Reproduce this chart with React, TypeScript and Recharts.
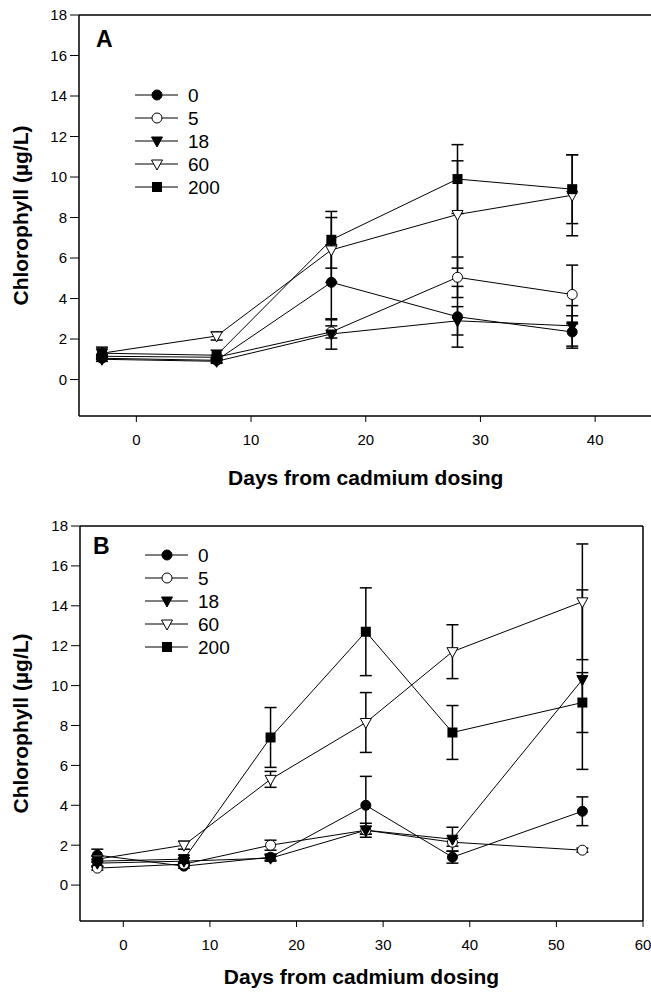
import { ComposedChart, Line, XAxis, YAxis, ErrorBar, ReferenceLine, Customized } from "recharts"

// doses of cadmium (legend)
const doses = ["0", "5", "18", "60", "200"]

// panel A
const daysA = [-3, 7, 17, 28, 38]
const a0 = [1.05, 0.95, 4.8, 3.1, 2.35]
const a5 = [1.15, 1.1, 2.35, 5.05, 4.2]
const a18 = [1.0, 0.9, 2.25, 2.9, 2.65]
const a60 = [1.3, 2.15, 6.4, 8.15, 9.1]
const a200 = [1.3, 1.2, 6.9, 9.9, 9.4]
const a0err = [0.15, 0.1, 1.85, 1.5, 0.8]
const a5err = [0.1, 0.1, 0.3, 1.0, 1.45]
const a18err = [0.1, 0.1, 0.75, 0.7, 1.0]
const a60err = [0.2, 0.2, 1.6, 2.65, 2.0]
const a200err = [0.3, 0.25, 1.4, 1.7, 1.7]

// panel B
const daysB = [-3, 7, 17, 28, 38, 53]
const b0 = [1.5, 0.95, 1.4, 4.0, 1.4, 3.7]
const b5 = [0.85, 1.05, 2.0, 2.75, 2.15, 1.75]
const b18 = [1.1, 1.2, 1.35, 2.75, 2.3, 10.3]
const b60 = [1.3, 2.0, 5.3, 8.15, 11.7, 14.2]
const b200 = [1.2, 1.3, 7.4, 12.7, 7.65, 9.15]
const b0err = [0.3, 0.1, 0.15, 1.45, 0.3, 0.72]
const b5err = [0.1, 0.1, 0.25, 0.2, 0.2, 0.1]
const b18err = [0.2, 0.15, 0.15, 0.35, 0.6, 4.5]
const b60err = [0.15, 0.2, 0.4, 1.5, 1.35, 2.9]
const b200err = [0.25, 0.2, 1.5, 2.2, 1.35, 1.5]

const yTicks = [0, 2, 4, 6, 8, 10, 12, 14, 16, 18]
const xTicksA = [0, 10, 20, 30, 40]
const xTicksB = [0, 10, 20, 30, 40, 50, 60]

const FONT = "'Liberation Sans', Arial, sans-serif"

const markers = [
  { shape: "circle", filled: true },
  { shape: "circle", filled: false },
  { shape: "tri", filled: true },
  { shape: "tri", filled: false },
  { shape: "square", filled: true },
]

function Marker({ cx, cy, shape, filled }: any) {
  if (cx == null || cy == null) return null
  const fill = filled ? "#000" : "#fff"
  if (shape === "circle") return <circle cx={cx} cy={cy} r={5} fill={fill} stroke="#000" strokeWidth={1} />
  if (shape === "tri")
    return (
      <polygon
        points={`${cx - 5.5},${cy - 4} ${cx + 5.5},${cy - 4} ${cx},${cy + 6}`}
        fill={fill}
        stroke="#000"
        strokeWidth={1}
      />
    )
  return <rect x={cx - 5} y={cy - 5} width={10} height={10} fill={fill} />
}

function buildRows(days: number[], values: number[][], errors: number[][]) {
  return days.map((d, i) => {
    const row: any = { day: d }
    doses.forEach((_, j) => {
      row["v" + j] = values[j][i]
      row["e" + j] = errors[j][i]
    })
    return row
  })
}

function Panel(props: any) {
  const { letter, rows, xMax, xTicks, width, height, margin, yWidth, legend, letterPos, titleGap, rightBorder } = props
  return (
    <ComposedChart width={width} height={height} data={rows} margin={margin}>
      <XAxis
        type="number"
        dataKey="day"
        domain={[-5, xMax]}
        ticks={xTicks}
        allowDataOverflow
        height={40}
        axisLine={{ stroke: "#000", strokeWidth: 1.5 }}
        tickLine={{ stroke: "#000", strokeWidth: 1 }}
        tickSize={6}
        tickMargin={12}
        tick={{ fill: "#000", fontSize: 15, fontFamily: FONT }}
        label={(p: any) => {
          const vb = p.viewBox
          return (
            <text
              x={vb.x + vb.width / 2}
              y={vb.y + titleGap}
              textAnchor="middle"
              fontFamily={FONT}
              fontWeight="bold"
              fontSize={21}
              fill="#000"
            >
              Days from cadmium dosing
            </text>
          )
        }}
      />
      <YAxis
        type="number"
        domain={[-1.8, 18]}
        ticks={yTicks}
        allowDataOverflow
        width={yWidth}
        axisLine={{ stroke: "#000", strokeWidth: 1.5 }}
        tickLine={{ stroke: "#000", strokeWidth: 1 }}
        tickSize={9}
        tickMargin={3}
        tick={{ fill: "#000", fontSize: 15, fontFamily: FONT }}
        label={(p: any) => {
          const vb = p.viewBox
          const cx = 20
          const cy = vb.y + vb.height / 2
          return (
            <text
              x={cx}
              y={cy}
              transform={`rotate(-90, ${cx}, ${cy})`}
              textAnchor="middle"
              dominantBaseline="central"
              fontFamily={FONT}
              fontWeight="bold"
              fontSize={21}
              fill="#000"
            >
              Chlorophyll (µg/L)
            </text>
          )
        }}
      />
      <ReferenceLine y={18} stroke="#000" strokeWidth={1.5} ifOverflow="visible" />
      {rightBorder && <ReferenceLine x={xMax} stroke="#000" strokeWidth={1.5} ifOverflow="visible" />}
      {doses.map((d, j) => (
        <Line
          key={d}
          dataKey={"v" + j}
          name={d}
          stroke="#000"
          strokeWidth={1}
          isAnimationActive={false}
          dot={(dp: any) => <Marker key={"m" + j + "-" + dp.index} cx={dp.cx} cy={dp.cy} {...markers[j]} />}
          activeDot={false}
        >
          <ErrorBar dataKey={"e" + j} direction="y" width={6} stroke="#000" strokeWidth={1.5} />
        </Line>
      ))}
      <Customized
        component={() => (
          <g>
            <text x={letterPos[0]} y={letterPos[1]} fontFamily={FONT} fontWeight="bold" fontSize={23} fill="#000">
              {letter}
            </text>
            {doses.map((d, j) => {
              const y = legend.y + j * 23
              return (
                <g key={d}>
                  <line x1={legend.x} x2={legend.x + 43} y1={y} y2={y} stroke="#000" strokeWidth={1} />
                  <Marker cx={legend.x + 22} cy={y} {...markers[j]} />
                  <text x={legend.x + 53} y={y + 7} fontFamily={FONT} fontSize={19} fill="#000">
                    {d}
                  </text>
                </g>
              )
            })}
          </g>
        )}
      />
    </ComposedChart>
  )
}

export default function App() {
  const rowsA = buildRows(daysA, [a0, a5, a18, a60, a200], [a0err, a5err, a18err, a60err, a200err])
  const rowsB = buildRows(daysB, [b0, b5, b18, b60, b200], [b0err, b5err, b18err, b60err, b200err])
  return (
    <div
      style={{
        position: "absolute",
        left: 0,
        top: 0,
        width: 651,
        height: 992,
        overflow: "hidden",
        background: "#fff",
        fontFamily: FONT,
      }}
    >
      <div style={{ position: "absolute", left: 0, top: 0 }}>
        <Panel
          letter="A"
          rows={rowsA}
          xMax={45}
          xTicks={xTicksA}
          width={660}
          height={500}
          margin={{ top: 15, right: 7.5, bottom: 44, left: 0 }}
          yWidth={79}
          legend={{ x: 135, y: 95 }}
          letterPos={[96, 47]}
          titleGap={69}
          rightBorder={false}
        />
      </div>
      <div style={{ position: "absolute", left: 0, top: 500 }}>
        <Panel
          letter="B"
          rows={rowsB}
          xMax={60}
          xTicks={xTicksB}
          width={651}
          height={492}
          margin={{ top: 26, right: 8, bottom: 31, left: 0 }}
          yWidth={80}
          legend={{ x: 145, y: 55 }}
          letterPos={[93, 54]}
          titleGap={63}
          rightBorder={true}
        />
      </div>
    </div>
  )
}
